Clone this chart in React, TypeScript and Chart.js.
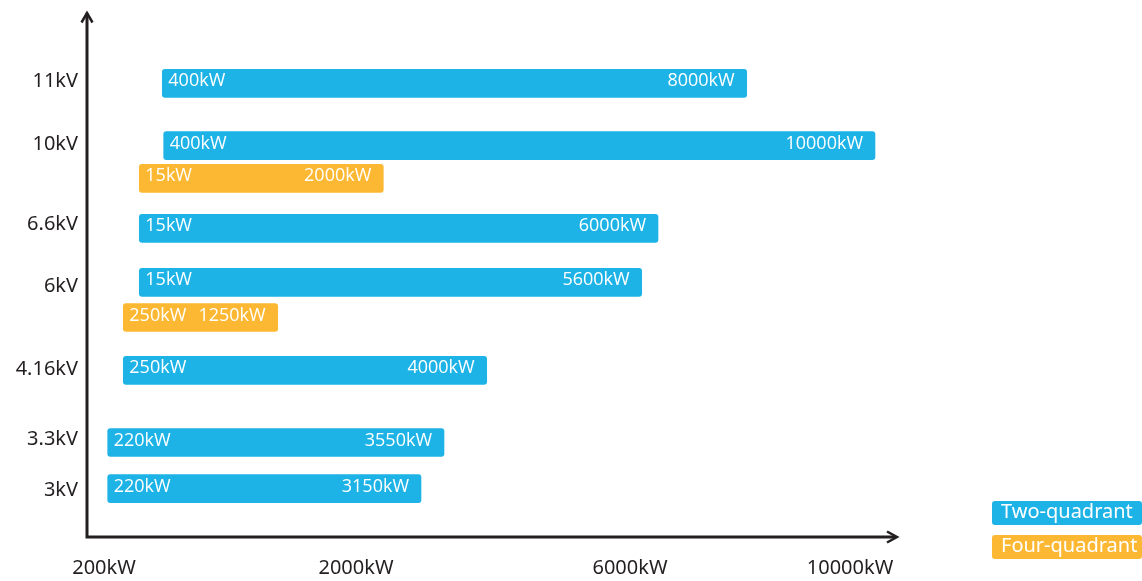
import React, { useEffect, useRef } from "react";
import { Chart, registerables } from "chart.js";

Chart.register(...registerables);

// ---- Data (nominal schematic positions) ----
const voltageLabels = ["11kV", "10kV", "6.6kV", "6kV", "4.16kV", "3.3kV", "3kV"];
const voltageRowPos = [45.6, 39.3, 31.25, 25.1, 16.8, 9.8, 4.7];

const powerTickLabels = ["200kW", "2000kW", "6000kW", "10000kW"];
const powerTickPos = [1.7, 26.9, 54.3, 76.3];

const twoQuadRow = [45.37, 39.13, 30.87, 25.47, 16.67, 9.45, 4.83];
const twoQuadStart = [7.53, 7.67, 5.23, 5.23, 3.63, 2.07, 2.07];
const twoQuadEnd = [65.97, 78.8, 57.1, 55.47, 39.97, 35.7, 33.4];
const twoQuadMinKW = ["400kW", "400kW", "15kW", "15kW", "250kW", "220kW", "220kW"];
const twoQuadMaxKW = ["8000kW", "10000kW", "6000kW", "5600kW", "4000kW", "3550kW", "3150kW"];

const fourQuadRow = [35.87, 21.95];
const fourQuadStart = [5.23, 3.63];
const fourQuadEnd = [29.63, 19.07];
const fourQuadMinKW = ["15kW", "250kW"];
const fourQuadMaxKW = ["2000kW", "1250kW"];

const seriesNames = ["Two-quadrant", "Four-quadrant"];
const seriesColors = ["#1EB3E6", "#FDB833"];

const AXIS_COLOR = "#231F20";
const barLabelSets = [
  [twoQuadMinKW, twoQuadMaxKW],
  [fourQuadMinKW, fourQuadMaxKW],
];

const overlayPlugin = {
  id: "overlay",
  afterDatasetsDraw(chart: any) {
    const ctx = chart.ctx;
    ctx.save();
    ctx.fillStyle = "#FFFFFF";
    ctx.font = "18px 'Open Sans'";
    ctx.textBaseline = "middle";
    chart.data.datasets.forEach((_ds: any, di: number) => {
      const meta = chart.getDatasetMeta(di);
      const [mins, maxs] = barLabelSets[di];
      meta.data.forEach((el: any, i: number) => {
        const { x, base, y } = el.getProps(["x", "base", "y"], true);
        const left = Math.min(x, base);
        const right = Math.max(x, base);
        ctx.textAlign = "left";
        ctx.fillText(mins[i], left + 6, y - 2);
        ctx.textAlign = "right";
        ctx.fillText(maxs[i], right - 12, y - 2);
      });
    });
    ctx.restore();
  },
  afterDraw(chart: any) {
    const ctx = chart.ctx;
    const { left, right, top, bottom } = chart.chartArea;
    ctx.save();
    // axes with arrows
    ctx.strokeStyle = AXIS_COLOR;
    ctx.lineWidth = 3;
    ctx.lineJoin = "miter";
    ctx.beginPath();
    ctx.moveTo(left, top + 1);
    ctx.lineTo(left, bottom);
    ctx.lineTo(right - 1, bottom);
    ctx.stroke();
    ctx.lineWidth = 2.5;
    ctx.beginPath();
    ctx.moveTo(left - 5.5, top + 10.5);
    ctx.lineTo(left, top + 1);
    ctx.lineTo(left + 5.5, top + 10.5);
    ctx.stroke();
    ctx.beginPath();
    ctx.moveTo(right - 10, bottom - 5.5);
    ctx.lineTo(right, bottom);
    ctx.lineTo(right - 10, bottom + 5.5);
    ctx.stroke();

    // legend
    const boxW = 150;
    const boxH = 24;
    const bx = chart.width - boxW;
    const tops = [bottom - 36, bottom - 2];
    ctx.font = "20px 'Noto Sans'";
    ctx.textBaseline = "middle";
    ctx.textAlign = "left";
    seriesNames.forEach((name, i) => {
      ctx.fillStyle = seriesColors[i];
      ctx.beginPath();
      ctx.roundRect(bx, tops[i], boxW, boxH, 3);
      ctx.fill();
      ctx.fillStyle = "#FFFFFF";
      ctx.fillText(name, bx + 9, tops[i] + boxH / 2 - 1);
    });
    ctx.restore();
  },
};

export default function App() {
  const canvasRef = useRef<HTMLCanvasElement | null>(null);

  useEffect(() => {
    document.body.style.margin = "0";
    const canvas = canvasRef.current;
    if (!canvas) return;

    const twoData = twoQuadRow.map((r, i) => ({ x: [twoQuadStart[i], twoQuadEnd[i]], y: r }));
    const fourData = fourQuadRow.map((r, i) => ({ x: [fourQuadStart[i], fourQuadEnd[i]], y: r }));

    const chart = new Chart(canvas, {
      type: "bar",
      data: {
        datasets: [
          {
            label: seriesNames[0],
            data: twoData as any,
            backgroundColor: seriesColors[0],
            borderRadius: 3,
            borderSkipped: false,
            barThickness: 28,
            grouped: false,
          } as any,
          {
            label: seriesNames[1],
            data: fourData as any,
            backgroundColor: seriesColors[1],
            borderRadius: 3,
            borderSkipped: false,
            barThickness: 28,
            grouped: false,
          } as any,
        ],
      },
      options: {
        indexAxis: "y",
        animation: false,
        responsive: false,
        maintainAspectRatio: false,
        layout: { padding: { left: 0, top: 12, right: 245, bottom: 0 } },
        plugins: {
          legend: { display: false },
          tooltip: { enabled: false },
        },
        scales: {
          x: {
            type: "linear",
            min: 0,
            max: 81,
            offset: false,
            grid: { display: false, drawTicks: false, offset: false },
            border: { display: false },
            afterBuildTicks: (scale: any) => {
              scale.ticks = powerTickPos.map((v) => ({ value: v }));
            },
            afterFit: (scale: any) => {
              scale.height = 44;
              scale.paddingLeft = 0;
              scale.paddingRight = 0;
            },
            ticks: {
              autoSkip: false,
              maxRotation: 0,
              padding: 19,
              color: AXIS_COLOR,
              font: { family: "Noto Sans", size: 20 },
              callback: (_v: any, i: number) => powerTickLabels[i],
            },
          },
          y: {
            type: "linear",
            min: 0,
            max: 52.5,
            offset: false,
            grid: { display: false, drawTicks: false, offset: false },
            border: { display: false },
            afterBuildTicks: (scale: any) => {
              scale.ticks = voltageRowPos.map((v) => ({ value: v }));
            },
            afterFit: (scale: any) => {
              scale.width = 87;
              scale.paddingTop = 0;
              scale.paddingBottom = 0;
            },
            ticks: {
              autoSkip: false,
              padding: 9,
              color: AXIS_COLOR,
              font: { family: "Noto Sans", size: 20 },
              callback: (_v: any, i: number) => voltageLabels[i],
            },
          },
        },
      } as any,
      plugins: [overlayPlugin],
    });

    return () => chart.destroy();
  }, []);

  return (
    <div style={{ width: 1142, height: 581, position: "relative", background: "#fff" }}>
      <canvas ref={canvasRef} width={1142} height={581} style={{ display: "block" }} />
    </div>
  );
}
